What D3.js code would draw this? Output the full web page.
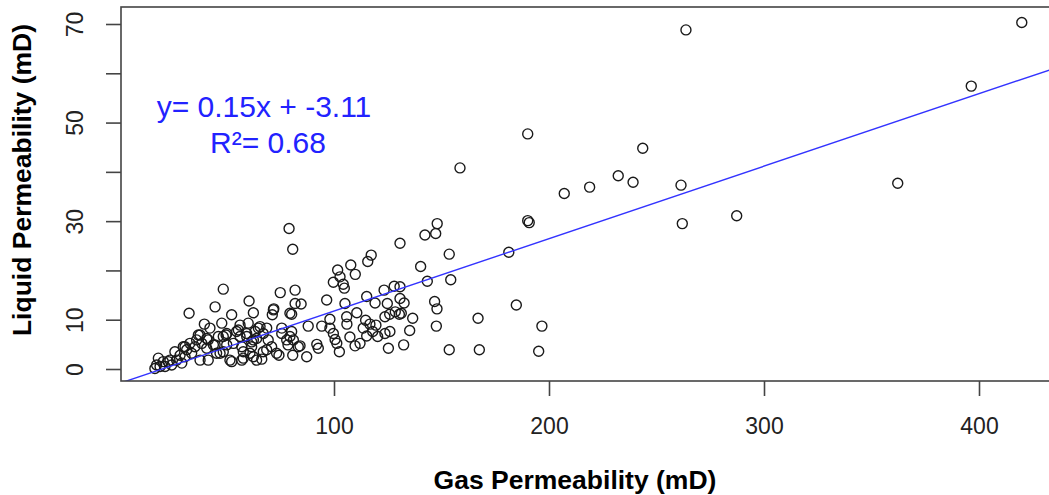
<!DOCTYPE html>
<html>
<head>
<meta charset="utf-8">
<script src="https://cdn.jsdelivr.net/npm/d3@7"></script>
<style>
  body { margin: 0; background: #fff; }
  svg { display: block; font-family: "Liberation Sans", Arial, sans-serif; }
</style>
</head>
<body>
<div id="chart"></div>
<script>
// gas permeability (mD)
var gasPerm = [
  419.9, 396.4, 362.2, 287.3, 263.7, 243.6, 232.2, 239.1, 218.9, 207.1,
  190.1, 158.6, 261.4, 262.0, 190.1, 190.8, 181.3, 184.8, 196.7, 195.2,
  167.6, 167.0, 153.6, 153.6, 154.3, 148.0, 147.3, 142.3, 130.7, 140.3,
  143.4, 146.8, 147.9, 147.6, 132.6, 131.3, 136.6, 135.2, 132.4, 130.7,
  79.1, 80.8, 48.5, 32.6, 44.7, 39.7, 52.4, 60.5, 62.5, 47.8,
  75.0, 81.9, 72.0, 71.3, 80.3, 84.7, 96.6, 101.7, 99.7, 102.8,
  104.3, 104.8, 107.8, 109.9, 115.7, 117.3, 130.7, 130.4, 128.0, 123.3,
  124.8, 128.5, 125.9, 123.7, 119.1, 115.2, 110.6, 114.7, 116.7, 119.5,
  113.6, 118.0, 115.2, 120.3, 123.7, 126.0, 112.1, 125.3, 105.9, 105.1,
  98.1, 94.3, 98.1, 99.7, 101.3, 100.5, 102.5, 92.0, 92.7, 88.0,
  87.3, 84.2, 80.3, 79.5, 81.1, 75.7, 74.4, 80.8, 68.7, 69.4,
  71.0, 67.1, 66.4, 61.7, 62.5, 57.8, 57.1, 55.5, 56.3, 52.4,
  49.8, 50.1, 48.5, 44.7, 45.4, 41.5, 40.8, 37.7, 38.5, 37.7,
  35.3, 33.8, 31.5, 30.7, 28.4, 29.2, 26.8, 24.5, 22.9, 21.4,
  18.3, 17.5, 16.7, 78.6, 59.4, 61.7, 64.0, 65.6, 63.3, 56.3,
  53.2, 42.3, 46.2, 29.9, 26.0, 36.1, 33.0, 20.6, 19.1, 23.7,
  30.7, 36.9, 40.8, 43.9, 48.5, 50.1, 54.7, 59.4, 60.1, 64.8,
  62.5, 67.1, 68.7, 73.3, 51.6, 57.8, 60.9, 64.0, 41.5, 71.8,
  79.5, 81.9, 78.0, 83.4, 75.7, 57.1, 47.0, 107.4, 109.8, 106.0
];

// liquid permeability (mD), same order
var liquidPerm = [
  70.3, 57.4, 37.7, 31.1, 68.8, 44.8, 39.2, 37.9, 36.9, 35.6,
  47.7, 40.8, 37.3, 29.5, 30.1, 29.7, 23.7, 13.0, 8.7, 3.6,
  3.9, 10.3, 3.9, 23.3, 18.1, 29.5, 27.5, 27.2, 25.5, 20.8,
  17.8, 13.7, 12.2, 8.7, 13.4, 11.3, 10.3, 7.8, 4.9, 16.7,
  28.5, 24.3, 16.2, 11.3, 12.6, 9.1, 11.0, 13.8, 11.4, 9.3,
  15.5, 16.0, 12.2, 11.0, 11.1, 13.2, 14.0, 20.1, 17.6, 18.7,
  17.2, 16.4, 21.1, 19.2, 21.8, 23.1, 14.3, 11.1, 16.8, 16.0,
  13.3, 11.6, 11.1, 10.6, 13.4, 14.7, 11.4, 9.9, 9.1, 8.9,
  8.3, 7.6, 6.7, 6.6, 7.2, 7.6, 5.2, 4.2, 10.6, 13.3,
  10.1, 8.7, 8.3, 7.2, 5.2, 6.0, 3.5, 5.0, 4.2, 8.7,
  2.5, 4.7, 7.6, 6.6, 5.9, 7.2, 2.8, 2.8, 8.3, 5.9,
  4.5, 3.5, 2.0, 4.5, 2.5, 3.5, 1.8, 7.9, 6.6, 1.5,
  6.9, 4.9, 3.5, 4.9, 3.2, 5.9, 4.2, 6.9, 5.2, 1.8,
  4.5, 3.2, 3.9, 2.5, 2.8, 1.2, 1.8, 0.8, 1.5, 0.5,
  2.2, 0.8, 0.1, 4.9, 6.6, 5.5, 6.2, 8.6, 7.6, 8.9,
  5.2, 8.3, 6.6, 4.5, 3.5, 5.9, 5.2, 1.5, 0.5, 1.8,
  4.5, 6.9, 6.2, 4.9, 6.6, 7.2, 7.6, 7.2, 9.3, 8.3,
  5.9, 7.2, 3.9, 3.2, 1.8, 2.2, 3.2, 1.8, 1.8, 12.0,
  11.3, 13.3, 5.9, 4.5, 8.3, 4.5, 3.2, 6.5, 4.7, 9.1
];

var xTicks = [100, 200, 300, 400];
var yTicks = [0, 10, 20, 30, 40, 50, 60, 70];
var yTickLabels = [0, 10, 30, 50, 70];

// fitted line as drawn
var fitSlope = 0.147;
var fitIntercept = -2.95;
var eqLines = ["y= 0.15x + -3.11", "R\u00b2= 0.68"];

var svgWidth = 1049;
var svgHeight = 495;

// plot box (R style, extends past the right edge)
var box = { left: 121, top: 7, right: 1056, bottom: 381 };

var svg = d3.select("#chart")
  .append("svg")
  .attr("width", svgWidth)
  .attr("height", svgHeight);

svg.append("rect")
  .attr("width", svgWidth)
  .attr("height", svgHeight)
  .attr("fill", "#fff");

var xScale = d3.scaleLinear().domain([0, 400]).range([119, 979]);
var yScale = d3.scaleLinear().domain([0, 70]).range([369, 24]);

svg.append("clipPath")
  .attr("id", "plotClip")
  .append("rect")
  .attr("x", box.left)
  .attr("y", box.top)
  .attr("width", box.right - box.left)
  .attr("height", box.bottom - box.top);

// points
var points = gasPerm.map(function(g, i) { return { x: g, y: liquidPerm[i] }; });

svg.append("g")
  .selectAll("circle")
  .data(points)
  .enter()
  .append("circle")
  .attr("cx", d => xScale(d.x))
  .attr("cy", d => yScale(d.y))
  .attr("r", 5)
  .attr("fill", "none")
  .attr("stroke", "#1a1a1a")
  .attr("stroke-width", 1.4);

// regression line
var x0 = xScale.invert(box.left);
var x1 = xScale.invert(box.right);
svg.append("line")
  .attr("clip-path", "url(#plotClip)")
  .attr("x1", xScale(x0))
  .attr("y1", yScale(fitSlope * x0 + fitIntercept))
  .attr("x2", xScale(x1))
  .attr("y2", yScale(fitSlope * x1 + fitIntercept))
  .attr("stroke", "#3333ff")
  .attr("stroke-width", 1.4);

// box
svg.append("rect")
  .attr("x", box.left)
  .attr("y", box.top)
  .attr("width", box.right - box.left)
  .attr("height", box.bottom - box.top)
  .attr("fill", "none")
  .attr("stroke", "#444")
  .attr("stroke-width", 1.6);

// x axis
var xAxis = svg.append("g")
  .attr("transform", `translate(0, ${box.bottom})`)
  .call(d3.axisBottom(xScale).tickValues(xTicks).tickSize(15).tickPadding(22));
xAxis.select(".domain").remove();
xAxis.selectAll("line").attr("stroke", "#444").attr("stroke-width", 1.6);
xAxis.selectAll("text")
  .attr("fill", "#222")
  .style("font-size", "23px");

// y axis
var yAxis = svg.append("g")
  .attr("transform", `translate(${box.left}, 0)`)
  .call(d3.axisLeft(yScale).tickValues(yTicks).tickSize(15)
    .tickFormat(d => yTickLabels.indexOf(d) >= 0 ? d : ""));
yAxis.select(".domain").remove();
yAxis.selectAll("line").attr("stroke", "#444").attr("stroke-width", 1.6);
yAxis.selectAll("text")
  .attr("fill", "#222")
  .style("font-size", "23px")
  .attr("text-anchor", "middle")
  .attr("x", null)
  .attr("dy", null)
  .attr("transform", "translate(-38, 0) rotate(-90)");

// axis titles
svg.append("text")
  .attr("x", 575)
  .attr("y", 489)
  .attr("text-anchor", "middle")
  .style("font-size", "26.5px")
  .style("font-weight", "bold")
  .text("Gas Permeability (mD)");

svg.append("text")
  .attr("transform", "translate(31, 180) rotate(-90)")
  .attr("text-anchor", "middle")
  .style("font-size", "26.5px")
  .style("font-weight", "bold")
  .text("Liquid Permeability (mD)");

// equation
svg.append("g")
  .selectAll("text")
  .data(eqLines)
  .enter()
  .append("text")
  .attr("x", (d, i) => i == 0 ? 264 : 268)
  .attr("y", (d, i) => 117 + i * 36)
  .attr("text-anchor", "middle")
  .attr("fill", "#2222ff")
  .style("font-size", "30px")
  .text(d => d);
</script>
</body>
</html>
